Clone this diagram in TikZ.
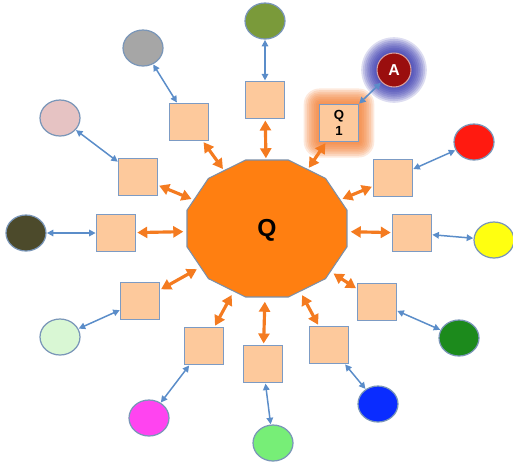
\documentclass[tikz,border=0pt]{standalone}
\usepackage{fontspec}
\setmainfont{Liberation Sans}
\usepackage{tikz}
\usetikzlibrary{arrows.meta,shapes.geometric,backgrounds}

\definecolor{hubfill}{HTML}{FF7F11}
\definecolor{hubline}{HTML}{7B8FA8}
\definecolor{boxfill}{HTML}{FDC99C}
\definecolor{boxline}{HTML}{7C9BC4}
\definecolor{dotline}{HTML}{7A96B8}
\definecolor{linkorange}{HTML}{F47B20}
\definecolor{linkblue}{HTML}{5B8DC9}
\definecolor{qglow}{HTML}{F2782A}
\definecolor{aglow}{HTML}{2A2AA8}
\definecolor{agentred}{HTML}{9A0E0E}
\definecolor{colOlive}{HTML}{7A9A3A}
\definecolor{colRed}{HTML}{FF1A10}
\definecolor{colYellow}{HTML}{FFFF10}
\definecolor{colDarkGreen}{HTML}{1C8A1C}
\definecolor{colBlue}{HTML}{0A2CFF}
\definecolor{colLightGreen}{HTML}{77EE77}
\definecolor{colMagenta}{HTML}{FF44F0}
\definecolor{colPaleGreen}{HTML}{D9F7D4}
\definecolor{colDarkOlive}{HTML}{4C4A2B}
\definecolor{colPink}{HTML}{E6C3C3}
\definecolor{colGrey}{HTML}{A6A6A6}

\begin{document}
\begin{tikzpicture}[
x=0.02cm, y=-0.02cm,
hubshape/.style={fill=hubfill, draw=hubline, line width=0.6pt},
hub/.style={ellipse, minimum width=3.28cm, minimum height=2.8cm, inner sep=0pt, outer sep=0pt, font=\fontsize{14}{16}\selectfont\bfseries},
box/.style={draw=boxline, fill=boxfill, line width=0.7pt, minimum width=0.78cm, minimum height=0.75cm, inner sep=0pt, outer sep=0pt, align=center, font=\fontsize{7.5}{9}\selectfont\bfseries},
dot/.style={ellipse, draw=dotline, line width=0.7pt, minimum width=0.8cm, minimum height=0.72cm, inner sep=0pt, outer sep=0pt},
agent/.style={circle, draw=agentred!40, fill=agentred, line width=0.6pt, minimum size=0.68cm, inner sep=0pt, text=white, font=\fontsize{9}{10}\selectfont\bfseries},
oarr/.style={{Triangle[length=2mm,width=2.2mm]}-{Triangle[length=2mm,width=2.2mm]}, draw=linkorange, line width=1.8pt, shorten <=1pt, shorten >=1pt},
barr/.style={{Triangle[length=1.3mm,width=1.3mm]}-{Triangle[length=1.3mm,width=1.3mm]}, draw=linkblue, line width=0.85pt, shorten <=0.5pt, shorten >=0.5pt}
]
\useasboundingbox (0,0) rectangle (513,468);

% central twelve-sided hub
\draw[hubshape, shift={(267,228.5)}] (15:82.8 and 70.9)
  \foreach \a in {45,75,...,345} { -- (\a:82.8 and 70.9) } -- cycle;
\node[hub] (Q) at (267,230) {Q};

% ring of boxes
\node[box] (box12) at (265,100) {};
\node[box] (box1) at (339,123) {Q\\1};
\node[box] (box2) at (393,178) {};
\node[box] (box3) at (412,233) {};
\node[box] (box4) at (377,302) {};
\node[box] (box5) at (329,345) {};
\node[box] (box6) at (263,364) {};
\node[box] (box7) at (204,346) {};
\node[box] (box8) at (140,301) {};
\node[box] (box9) at (116,233) {};
\node[box] (box10) at (138,177) {};
\node[box] (box11) at (189,122) {};

% outer dots
\node[dot, fill=colOlive] (dot12) at (265,21) {};
\node[agent] (dot1) at (394,70) {A};
\node[dot, fill=colRed] (dot2) at (474,142) {};
\node[dot, fill=colYellow] (dot3) at (494,240) {};
\node[dot, fill=colDarkGreen] (dot4) at (459,338) {};
\node[dot, fill=colBlue] (dot5) at (378,404) {};
\node[dot, fill=colLightGreen] (dot6) at (273,443) {};
\node[dot, fill=colMagenta] (dot7) at (149,418) {};
\node[dot, fill=colPaleGreen] (dot8) at (60,337) {};
\node[dot, fill=colDarkOlive] (dot9) at (26,233) {};
\node[dot, fill=colPink] (dot10) at (60,118) {};
\node[dot, fill=colGrey] (dot11) at (143,48) {};

% glows
\begin{pgfonlayer}{background}
\foreach \d in {1,2,...,9}
  \fill[qglow, opacity=0.16, rounded corners=\d pt] ([shift={(-\d pt,-\d pt)}]box1.south west) rectangle ([shift={(\d pt,\d pt)}]box1.north east);
\foreach \d in {1,2,...,9}
  \fill[aglow, opacity=0.16] (dot1.center) circle[radius=0.34cm+\d pt];
\end{pgfonlayer}

% hub links
\draw[oarr] (Q) -- (box12);
\draw[oarr] (Q) -- (box1);
\draw[oarr] (Q) -- (box2);
\draw[oarr] (Q) -- (box3);
\draw[oarr] (Q) -- (box4);
\draw[oarr] (Q) -- (box5);
\draw[oarr] (Q) -- (box6);
\draw[oarr] (Q) -- (box7);
\draw[oarr] (Q) -- (box8);
\draw[oarr] (Q) -- (box9);
\draw[oarr] (Q) -- (box10);
\draw[oarr] (Q) -- (box11);

% outer links
\draw[barr] (box12) -- (dot12);
\draw[barr] (box1) -- (dot1);
\draw[barr] (box2) -- (dot2);
\draw[barr] (box3) -- (dot3);
\draw[barr] (box4) -- (dot4);
\draw[barr] (box5) -- (dot5);
\draw[barr] (box6) -- (dot6);
\draw[barr] (box7) -- (dot7);
\draw[barr] (box8) -- (dot8);
\draw[barr] (box9) -- (dot9);
\draw[barr] (box10) -- (dot10);
\draw[barr] (box11) -- (dot11);
\end{tikzpicture}
\end{document}
